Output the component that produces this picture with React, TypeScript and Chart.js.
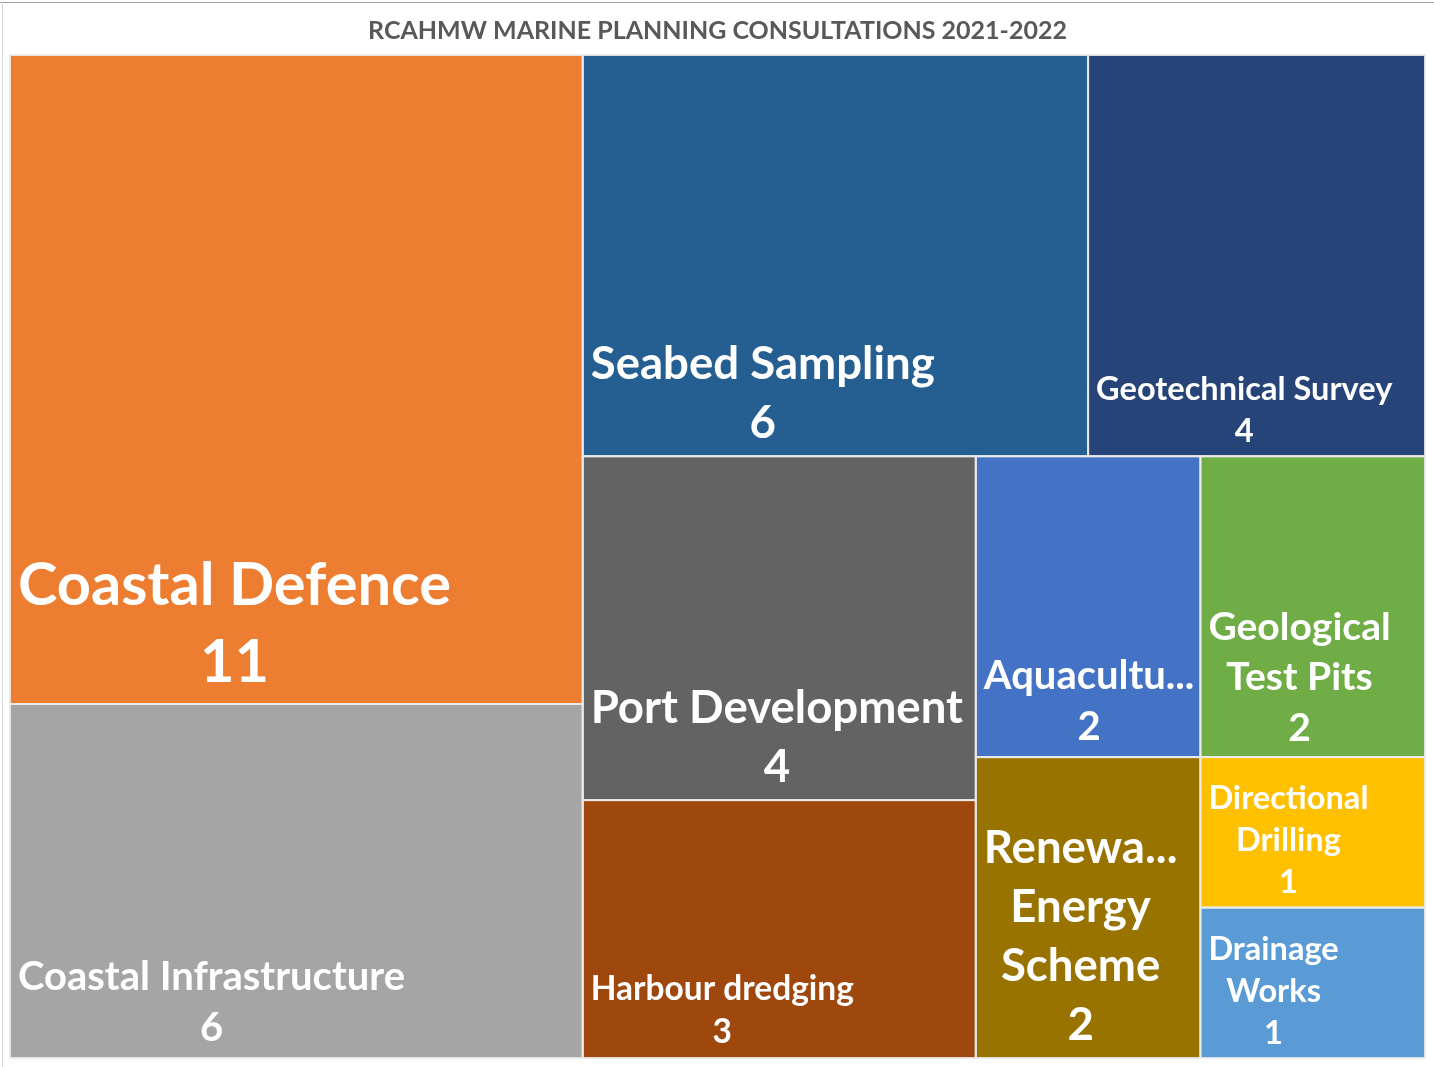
import { useEffect, useRef } from "react";
import { Chart, registerables } from "chart.js";
Chart.register(...registerables);

// ---- data ----
const TITLE = "RCAHMW MARINE PLANNING CONSULTATIONS 2021-2022";
const categories = [
  "Coastal Defence",
  "Coastal Infrastructure",
  "Seabed Sampling",
  "Geotechnical Survey",
  "Port Development",
  "Harbour dredging",
  "Aquaculture",
  "Renewable Energy Scheme",
  "Geological Test Pits",
  "Directional Drilling",
  "Drainage Works",
];
const counts = [11, 6, 6, 4, 4, 3, 2, 2, 2, 1, 1];
const colors = [
  "#ED7D31",
  "#A5A5A5",
  "#255E91",
  "#264478",
  "#636363",
  "#9E480E",
  "#4472C4",
  "#997300",
  "#70AD47",
  "#FFC000",
  "#5B9BD5",
];
// label font sizes (style)
const labelSizes = [64, 43, 49, 35, 49, 36, 43, 49, 42, 35, 35];

// domain of the treemap scales
const DOMAIN_W = 1415;
const DOMAIN_H = 1003;
const FONT_FAMILY = "Lato";
const FONT_SCALE = 0.93;

type Rect = { x: number; y: number; w: number; h: number };

function avgRatio(areas: number[], side: number): number {
  const sum = areas.reduce((a, b) => a + b, 0);
  const thick = sum / side;
  let tot = 0;
  for (const a of areas) {
    const len = a / thick;
    tot += Math.max(len / thick, thick / len);
  }
  return tot / areas.length;
}

function squarify(values: number[], W: number, H: number): Rect[] {
  const total = values.reduce((a, b) => a + b, 0);
  const areas = values.map((v) => (v / total) * W * H);
  const out: Rect[] = [];
  let x = 0, y = 0, w = W, h = H;
  let idx = 0;
  while (idx < areas.length) {
    const evalOrient = (side: number) => {
      let count = 0;
      let best = Infinity;
      for (let i = idx; i < areas.length; i++) {
        const cand = areas.slice(idx, i + 1);
        const r = avgRatio(cand, side);
        if (r <= best + 1e-9) {
          best = r;
          count = i - idx + 1;
        } else break;
      }
      return { count, best };
    };
    const col = evalOrient(h);
    const row = evalOrient(w);
    const useRow = row.best < col.best - 1e-6;
    const pick = useRow ? row : col;
    const group = areas.slice(idx, idx + pick.count);
    const sum = group.reduce((a, b) => a + b, 0);
    if (useRow) {
      const th = sum / w;
      let cx = x;
      for (const a of group) {
        const len = a / th;
        out.push({ x: cx, y, w: len, h: th });
        cx += len;
      }
      y += th;
      h -= th;
    } else {
      const tw = sum / h;
      let cy = y;
      for (const a of group) {
        const len = a / tw;
        out.push({ x, y: cy, w: tw, h: len });
        cy += len;
      }
      x += tw;
      w -= tw;
    }
    idx += pick.count;
  }
  return out;
}

const cells = squarify(counts, DOMAIN_W, DOMAIN_H);

function wrapLines(ctx: CanvasRenderingContext2D, text: string, avail: number): string[] {
  const words = text.split(" ");
  const lines: string[] = [];
  let cur = "";
  for (const wd of words) {
    const test = cur ? cur + " " + wd : wd;
    if (ctx.measureText(test).width <= avail) cur = test;
    else {
      if (cur) lines.push(cur);
      cur = wd;
    }
  }
  if (cur) lines.push(cur);
  return lines.map((ln) => {
    if (ctx.measureText(ln).width <= avail) return ln;
    let s = ln;
    while (s.length > 1 && ctx.measureText(s + "...").width > avail + 6) s = s.slice(0, -1);
    return s + "...";
  });
}

const treemapPlugin = {
  id: "treemapCells",
  beforeDraw(chart: any) {
    const { ctx, width, height } = chart;
    ctx.save();
    ctx.fillStyle = "#ffffff";
    ctx.fillRect(0, 0, width, height);
    ctx.strokeStyle = "#a0a0a0";
    ctx.lineWidth = 1;
    ctx.beginPath();
    ctx.moveTo(0, 2.5);
    ctx.lineTo(width, 2.5);
    ctx.stroke();
    ctx.strokeStyle = "#d8d8d8";
    ctx.beginPath();
    ctx.moveTo(2.5, 2);
    ctx.lineTo(2.5, height);
    ctx.stroke();
    ctx.restore();
  },
  afterDatasetsDraw(chart: any) {
    const { ctx } = chart;
    const xs = chart.scales.x;
    const ys = chart.scales.y;
    const px = cells.map((r) => {
      const left = xs.getPixelForValue(r.x);
      const right = xs.getPixelForValue(r.x + r.w);
      const top = ys.getPixelForValue(r.y);
      const bottom = ys.getPixelForValue(r.y + r.h);
      return { left, right, top, bottom };
    });
    ctx.save();
    px.forEach((p, i) => {
      ctx.fillStyle = colors[i];
      ctx.fillRect(p.left, p.top, p.right - p.left, p.bottom - p.top);
    });
    ctx.strokeStyle = "rgba(235,235,235,0.9)";
    ctx.lineWidth = 2;
    px.forEach((p) => {
      ctx.strokeRect(p.left, p.top, p.right - p.left, p.bottom - p.top);
    });
    // labels
    px.forEach((p, i) => {
      const fs = labelSizes[i];
      ctx.font = `700 ${fs * FONT_SCALE}px ${FONT_FAMILY}`;
      const avail = p.right - p.left - 16;
      const lines = wrapLines(ctx, categories[i], avail);
      lines.push(String(counts[i]));
      const lineH = fs * 1.2;
      const lastBase = p.bottom - 5 - 0.27 * fs;
      const blockW = Math.max(...lines.map((l) => ctx.measureText(l).width));
      const cx = p.left + 8 + blockW / 2;
      ctx.fillStyle = "#ffffff";
      ctx.textAlign = "center";
      ctx.textBaseline = "alphabetic";
      const n = lines.length;
      lines.forEach((l, k) => {
        ctx.fillText(l, cx, lastBase - (n - 1 - k) * lineH);
      });
    });
    ctx.restore();
  },
};

export default function App() {
  const ref = useRef<HTMLCanvasElement | null>(null);
  useEffect(() => {
    if (!ref.current) return;
    const chart = new Chart(ref.current, {
      type: "scatter",
      data: {
        datasets: [
          {
            label: "Consultations",
            data: cells.map((r) => ({ x: r.x + r.w / 2, y: r.y + r.h / 2 })),
            pointRadius: 0,
            pointHoverRadius: 0,
          },
        ],
      },
      options: {
        animation: false,
        responsive: true,
        maintainAspectRatio: false,
        events: [],
        layout: { padding: { left: 10, right: 9, top: 14, bottom: 9 } },
        scales: {
          x: { type: "linear", min: 0, max: DOMAIN_W, display: false },
          y: { type: "linear", min: 0, max: DOMAIN_H, reverse: true, display: false },
        },
        plugins: {
          legend: { display: false },
          tooltip: { enabled: false },
          title: {
            display: true,
            text: TITLE,
            color: "#595959",
            font: { family: FONT_FAMILY, size: 25, weight: "bold" },
            padding: { top: 2, bottom: 9 },
          },
        },
      },
      plugins: [treemapPlugin],
    });
    return () => chart.destroy();
  }, []);
  return (
    <div style={{ position: "absolute", left: 0, top: 0, width: 1434, height: 1067 }}>
      <canvas ref={ref} />
    </div>
  );
}
